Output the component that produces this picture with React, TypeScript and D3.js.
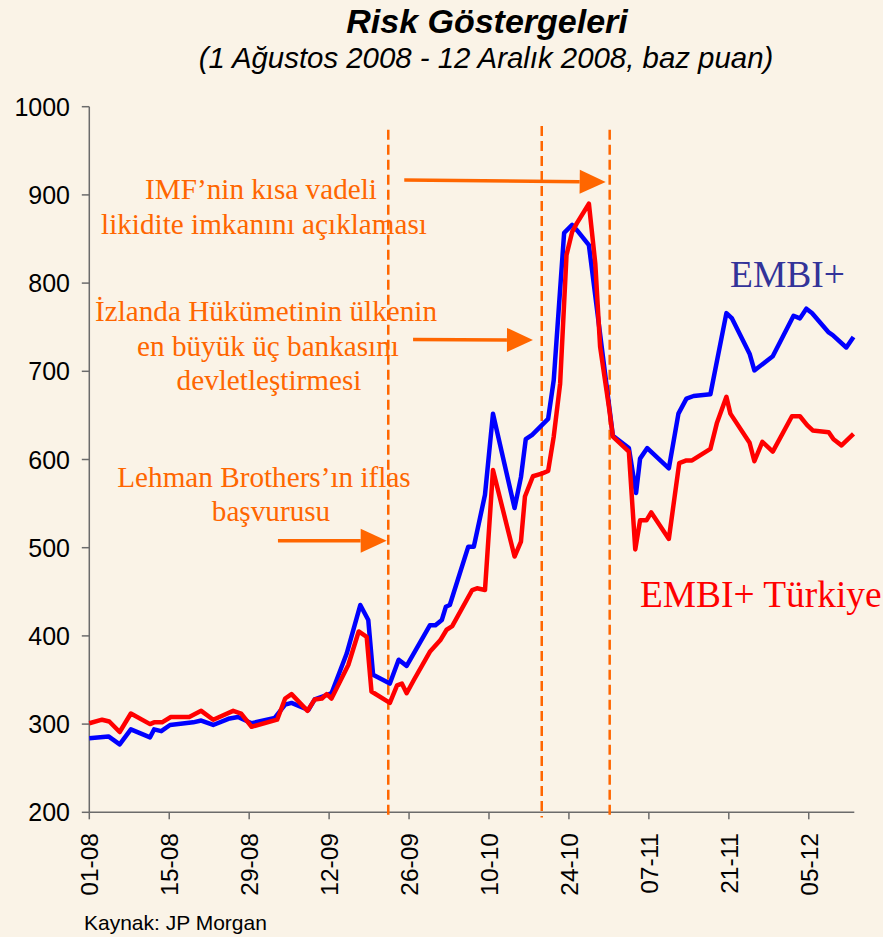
import React from "react";
import * as d3 from "d3";

// x positions are trading-day offsets from 01-08-2008
const tickDays = [0, 10, 20, 30, 40, 50, 60, 70, 80, 90];
const tickLabels = ["01-08", "15-08", "29-08", "12-09", "26-09", "10-10", "24-10", "07-11", "21-11", "05-12"];
const yTicks = [200, 300, 400, 500, 600, 700, 800, 900, 1000];

const embiDays = [0, 2.4, 3.8, 5.2, 7.6, 8.1, 9.0, 10.1, 13.0, 14.0, 15.5, 17.4, 18.6, 20.3, 23.2, 24.5, 25.3, 27.4, 28.2, 29.7, 30.3, 32.2, 33.9, 34.9, 35.5, 37.6, 38.7, 39.7, 42.6, 43.3, 44.1, 44.6, 45.1, 47.4, 48.1, 49.5, 50.5, 53.2, 54.0, 54.6, 55.4, 57.4, 58.1, 59.4, 60.4, 61.0, 62.5, 65.5, 67.5, 68.4, 68.9, 69.8, 72.5, 73.7, 74.7, 75.6, 77.7, 79.7, 80.4, 82.6, 83.2, 85.5, 88.1, 88.9, 89.7, 90.4, 92.5, 93.0, 94.7, 95.6];
const embiValues = [284, 286, 277, 294, 285, 294, 292, 299, 302, 304, 299, 306, 308, 301, 307, 322, 324, 316, 328, 333, 335, 380, 435, 418, 356, 346, 373, 366, 412, 412, 418, 433, 435, 501, 501, 560, 652, 545, 580, 623, 628, 646, 690, 857, 866, 860, 843, 627, 613, 562, 601, 613, 590, 652, 669, 672, 674, 766, 760, 720, 701, 717, 763, 760, 771, 766, 744, 741, 727, 739];

const turkeyDays = [0, 1.6, 2.5, 3.8, 5.2, 7.6, 8.1, 9.1, 10.2, 12.5, 14.0, 15.5, 18.0, 19.0, 20.3, 23.5, 24.5, 25.3, 27.3, 28.2, 29.1, 29.7, 30.3, 32.4, 33.7, 34.7, 35.3, 37.6, 38.5, 39.1, 39.7, 40.6, 42.6, 43.9, 44.7, 45.4, 47.9, 48.5, 49.5, 50.5, 53.2, 54.0, 54.5, 55.5, 56.6, 57.4, 58.1, 58.9, 59.7, 60.4, 61.0, 62.5, 63.3, 63.9, 65.0, 65.5, 67.5, 68.3, 68.9, 69.7, 70.3, 72.5, 73.8, 74.7, 75.4, 77.7, 78.5, 79.7, 80.2, 82.6, 83.2, 84.2, 85.5, 87.9, 88.9, 89.8, 90.5, 92.5, 93.1, 94.1, 95.6];
const turkeyValues = [301, 305, 303, 291, 312, 300, 302, 302, 308, 308, 315, 305, 315, 312, 297, 305, 329, 334, 315, 328, 329, 334, 329, 367, 405, 399, 337, 324, 344, 346, 335, 350, 382, 395, 407, 411, 452, 454, 452, 588, 490, 507, 558, 581, 584, 587, 626, 686, 832, 858, 868, 890, 822, 728, 660, 626, 609, 498, 531, 531, 540, 510, 596, 599, 599, 612, 641, 671, 652, 619, 598, 620, 609, 649, 649, 639, 633, 631, 623, 616, 629];

// event markers (trading-day offsets) and annotation arrows
const eventDays = [37.4, 56.6, 65.1];
const eventTop = [974, 978, 974];
const arrowFromDay = [23.6, 40.5, 39.4];
const arrowToDay = [37.2, 55.5, 64.6];
const arrowFromVal = [508, 736, 917];
const arrowToVal = [508, 735.5, 914.5];

const W = 883;
const H = 937;
const ORANGE = "#ff6600";
const SERIF = "'Liberation Serif', 'Times New Roman', serif";
const SANS = "'Liberation Sans', Arial, Helvetica, sans-serif";

export default function App() {
  const x = d3.scaleLinear().domain([0, 95.7]).range([89.3, 854.3]);
  const y = d3.scaleLinear().domain([200, 1000]).range([812.3, 106.7]);

  const line = d3
    .line<[number, number]>()
    .x((d) => x(d[0]))
    .y((d) => y(d[1]));

  const embi: [number, number][] = embiDays.map((d, i) => [d, embiValues[i]]);
  const turkey: [number, number][] = turkeyDays.map((d, i) => [d, turkeyValues[i]]);

  const arrows = arrowFromDay.map((d, i) => {
    const x0 = x(d);
    const y0 = y(arrowFromVal[i]);
    const x1 = x(arrowToDay[i]);
    const y1 = y(arrowToVal[i]);
    const ang = Math.atan2(y1 - y0, x1 - x0);
    const hl = 26;
    const hw = 12;
    const bx = x1 - hl * Math.cos(ang);
    const by = y1 - hl * Math.sin(ang);
    const px = -Math.sin(ang) * hw;
    const py = Math.cos(ang) * hw;
    return { x0, y0, bx, by, x1, y1, head: `M${x1},${y1}L${bx + px},${by + py}L${bx - px},${by - py}Z` };
  });

  const axisColor = "#6b6b6b";

  return (
    <div style={{ position: "absolute", left: 0, top: 0 }}>
      <svg width={W} height={H} style={{ display: "block" }}>
        <rect x={0} y={0} width={W} height={H} fill="#faf3e7" />

        {/* titles */}
        <text x={487} y={33} textAnchor="middle" fontFamily={SANS} fontWeight="bold" fontStyle="italic" fontSize={34} fill="#000">
          Risk Göstergeleri
        </text>
        <text x={486} y={68} textAnchor="middle" fontFamily={SANS} fontStyle="italic" fontSize={29.4} fill="#000">
          (1 Ağustos 2008 - 12 Aralık 2008, baz puan)
        </text>

        {/* y axis */}
        <line x1={x(0)} x2={x(0)} y1={y(1000)} y2={y(200)} stroke={axisColor} strokeWidth={1.5} />
        {yTicks.map((t) => (
          <g key={t}>
            <line x1={x(0) - 7.5} x2={x(0)} y1={y(t)} y2={y(t)} stroke={axisColor} strokeWidth={1.5} />
            <text x={70} y={y(t)} dy="0.36em" textAnchor="end" fontFamily={SANS} fontSize={25} fill="#000">
              {t}
            </text>
          </g>
        ))}

        {/* x axis */}
        <line x1={x(0)} x2={x(95.7)} y1={y(200)} y2={y(200)} stroke={axisColor} strokeWidth={1.5} />
        {tickDays.map((d, i) => (
          <g key={d}>
            <line x1={x(d)} x2={x(d)} y1={y(200)} y2={y(200) + 7} stroke={axisColor} strokeWidth={1.5} />
            <text
              transform={`translate(${x(d)},${833}) rotate(-90)`}
              dy="0.36em"
              textAnchor="end"
              fontFamily={SANS}
              fontSize={24.5}
              fill="#000"
            >
              {tickLabels[i]}
            </text>
          </g>
        ))}

        {/* event lines */}
        {eventDays.map((d, i) => (
          <line
            key={d}
            x1={x(d)}
            x2={x(d)}
            y1={y(eventTop[i])}
            y2={y(194)}
            stroke={ORANGE}
            strokeWidth={2.5}
            strokeDasharray="10,5"
          />
        ))}

        {/* series */}
        <path d={line(embi) || ""} fill="none" stroke="#0000ff" strokeWidth={4.5} strokeLinejoin="round" />
        <path d={line(turkey) || ""} fill="none" stroke="#ff0000" strokeWidth={4.5} strokeLinejoin="round" />

        {/* arrows */}
        {arrows.map((a, i) => (
          <g key={i}>
            <line x1={a.x0} y1={a.y0} x2={a.bx} y2={a.by} stroke={ORANGE} strokeWidth={3.5} />
            <path d={a.head} fill={ORANGE} />
          </g>
        ))}

        {/* annotation texts */}
        <g fontFamily={SERIF} fontSize={29.2} fill={ORANGE} textAnchor="middle">
          <text x={261} y={199}>IMF’nin kısa vadeli</text>
          <text x={264} y={234}>likidite imkanını açıklaması</text>
          <text x={266} y={321}>İzlanda Hükümetinin ülkenin</text>
          <text x={268} y={356}>en büyük üç bankasını</text>
          <text x={269} y={390}>devletleştirmesi</text>
          <text x={264} y={487}>Lehman Brothers’ın iflas</text>
          <text x={271} y={521}>başvurusu</text>
        </g>

        {/* series labels */}
        <text x={730} y={287} fontFamily={SERIF} fontSize={37.5} fill="#333399">
          EMBI+
        </text>
        <text x={640} y={607} fontFamily={SERIF} fontSize={37.4} fill="#ff0000">
          EMBI+ Türkiye
        </text>

        <text x={84} y={930} fontFamily={SANS} fontSize={21} fill="#000">
          Kaynak: JP Morgan
        </text>
      </svg>
    </div>
  );
}
